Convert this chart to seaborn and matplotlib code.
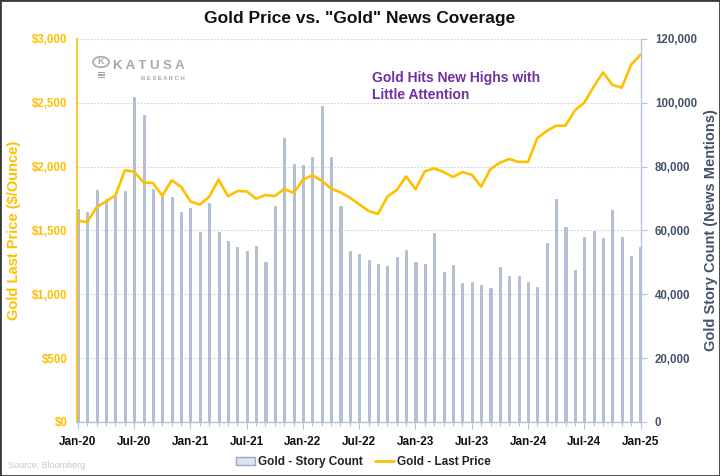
import matplotlib
matplotlib.use('Agg')
import matplotlib.pyplot as plt
import seaborn as sns
import pandas as pd
import numpy as np
from matplotlib.patches import Patch, Rectangle, Circle
from matplotlib.lines import Line2D
from matplotlib.ticker import FuncFormatter, MultipleLocator, FixedLocator

# ---------------- data ----------------
tick_labels = ['Jan-20', 'Jul-20', 'Jan-21', 'Jul-21', 'Jan-22', 'Jul-22',
               'Jan-23', 'Jul-23', 'Jan-24', 'Jul-24', 'Jan-25']

story_count = [66700, 65900, 72700, 69800, 70900, 72400, 101700, 96100, 72900, 71000, 70500, 65900,
               67000, 59400, 68600, 59400, 56800, 54900, 53700, 55200, 50000, 67700, 89100, 80700,
               80400, 83100, 98900, 83000, 67700, 53500, 52600, 50800, 49500, 48900, 51700, 53800,
               50200, 49500, 59300, 47000, 49200, 43700, 43800, 43000, 42000, 48700, 45700, 45900,
               44000, 42400, 56000, 69900, 61000, 47600, 58000, 59800, 57600, 66400, 58000, 52000,
               54900]

gold_price = [1577, 1567, 1684, 1728, 1775, 1971, 1961, 1877, 1872, 1773, 1893, 1843,
              1728, 1702, 1765, 1898, 1768, 1809, 1806, 1749, 1778, 1770, 1825, 1794,
              1898, 1932, 1890, 1828, 1799, 1757, 1705, 1653, 1629, 1765, 1817, 1924,
              1823, 1964, 1987, 1958, 1919, 1958, 1937, 1843, 1982, 2031, 2060, 2037,
              2037, 2225, 2279, 2321, 2321, 2441, 2501, 2626, 2739, 2640, 2619, 2799,
              2877]

df = pd.DataFrame({'month_idx': np.arange(len(story_count)),
                   'story_count': story_count,
                   'gold_price': gold_price})

# ---------------- style ----------------
GOLD = '#FFC000'
NAVY = '#44546A'
BAR = '#B4BFD4'
BAR_EDGE = '#9AA8C4'
AXIS_BLUE = '#B4C3DA'
GRID = '#D3D3D3'
PURPLE = '#7030A0'

sns.set_theme(style='white')
plt.rcParams['font.family'] = ['Liberation Sans', 'DejaVu Sans']

fig = plt.figure(figsize=(7.2, 4.76), dpi=100)
L, R, T, B = 77, 641, 39, 422
W, H = 720, 476
ax_bar = fig.add_axes([L / W, 1 - B / H, (R - L) / W, (B - T) / H])
ax_line = ax_bar.twinx()

# bars (right axis)
sns.barplot(data=df, x='month_idx', y='story_count', native_scale=True, width=0.22,
            color=BAR, edgecolor=BAR_EDGE, linewidth=0.4, errorbar=None,
            saturation=1, ax=ax_bar, zorder=2)
# line (left axis)
sns.lineplot(data=df, x='month_idx', y='gold_price', color=GOLD, linewidth=1.9,
             ax=ax_line, zorder=3)

# axis sides
ax_bar.yaxis.tick_right()
ax_bar.yaxis.set_label_position('right')
ax_line.yaxis.tick_left()
ax_line.yaxis.set_label_position('left')

ax_bar.set_xlim(-0.1, 60.05)
ax_bar.set_ylim(0, 120000)
ax_line.set_ylim(0, 3000)

# grid
ax_bar.set_axisbelow(True)
ax_bar.yaxis.set_major_locator(MultipleLocator(20000))
ax_bar.grid(axis='y', color=GRID, linestyle=(0, (1.5, 1.5)), linewidth=0.8, zorder=0)
ax_bar.grid(axis='x', visible=False)
ax_line.grid(False)

# x ticks
ax_bar.xaxis.set_major_locator(FixedLocator(np.arange(0, 61, 6)))
ax_bar.xaxis.set_minor_locator(FixedLocator(np.arange(0, 61, 1)))
ax_bar.set_xticklabels(tick_labels, fontsize=8.5, fontweight='bold', color='#111111')
ax_bar.tick_params(axis='x', which='major', bottom=True, length=5, width=0.8,
                   color=AXIS_BLUE, pad=5)
ax_bar.tick_params(axis='x', which='minor', bottom=True, length=3, width=0.8,
                   color=AXIS_BLUE)

# y ticks
ax_line.yaxis.set_major_locator(MultipleLocator(500))
ax_line.yaxis.set_major_formatter(FuncFormatter(lambda v, p: f'${v:,.0f}'))
ax_bar.yaxis.set_major_formatter(FuncFormatter(lambda v, p: f'{v:,.0f}'))
ax_line.tick_params(axis='y', left=False, length=0, labelsize=8.3, labelcolor=GOLD, pad=7)
ax_bar.tick_params(axis='y', right=True, length=4, width=0.8, color=AXIS_BLUE,
                   labelsize=8.3, labelcolor=NAVY, pad=6)
for t in ax_line.get_yticklabels():
    t.set_fontweight('bold')
for t in ax_bar.get_yticklabels():
    t.set_fontweight('bold')

ax_bar.set_xlabel('')
ax_line.set_xlabel('')
ax_line.set_ylabel('Gold Last Price ($/Ounce)', fontsize=10.5, fontweight='bold',
                   color=GOLD, labelpad=8)
ax_bar.set_ylabel('Gold Story Count (News Mentions)', fontsize=10.5, fontweight='bold',
                  color=NAVY, labelpad=5)

# spines
for s in ax_bar.spines.values():
    s.set_visible(False)
ax_line.spines['top'].set_visible(False)
ax_line.spines['left'].set_color(GOLD)
ax_line.spines['left'].set_linewidth(1.2)
ax_line.spines['right'].set_color(AXIS_BLUE)
ax_line.spines['right'].set_linewidth(1.0)
ax_line.spines['bottom'].set_color(AXIS_BLUE)
ax_line.spines['bottom'].set_linewidth(1.0)

# title
fig.text(0.5, 1 - 18 / H, 'Gold Price vs. "Gold" News Coverage', ha='center', va='center',
         fontsize=12.5, fontweight='bold', color='#111111')

# annotation
ax_line.text(31.4, 2630, 'Gold Hits New Highs with\nLittle Attention', ha='left', va='center',
             fontsize=10, fontweight='bold', color=PURPLE, linespacing=1.3)

# logo
LOGO = '#A8A8A8'
fig.text(113 / W, 1 - 66 / H, 'K A T U S A', ha='left', va='center', fontsize=9.5,
         fontweight='bold', color=LOGO)
fig.text(141 / W, 1 - 78 / H, 'R E S E A R C H', ha='left', va='center', fontsize=4.2,
         fontweight='bold', color=LOGO)
fig.patches.append(Circle((101 / W, 1 - 62 / H), 8 / W, transform=fig.transFigure,
                          facecolor='none', edgecolor=LOGO, linewidth=1.2))
fig.text(101 / W, 1 - 62 / H, 'K', ha='center', va='center', fontsize=6.5, color=LOGO,
         fontweight='bold')
for i in range(3):
    fig.patches.append(Rectangle((97.5 / W, 1 - (73 + i * 2.6) / H), 7 / W, 1.3 / H,
                                 transform=fig.transFigure, facecolor=LOGO, edgecolor='none'))

# legend
handles = [Patch(facecolor='#DCE2EE', edgecolor='#9AA8C4', linewidth=1.0, label='Gold - Story Count'),
           Line2D([0], [0], color=GOLD, linewidth=2, label='Gold - Last Price')]
leg = fig.legend(handles=handles, loc='center', bbox_to_anchor=(0.505, 1 - 462 / H), ncol=2,
                 frameon=False, fontsize=8.5, handlelength=1.6, handletextpad=0.3,
                 columnspacing=1.0)
for t in leg.get_texts():
    t.set_fontweight('bold')
    t.set_color('#222222')

# source
fig.text(8 / W, 1 - 466 / H, 'Source: Bloomberg', ha='left', va='center', fontsize=6.5,
         color='#C8C8C8')

# outer border
fig.patches.append(Rectangle((0, 0), 1, 1, transform=fig.transFigure, facecolor='none',
                             edgecolor='#3A3A3A', linewidth=2.0))

fig.savefig('out.png', dpi=100)
